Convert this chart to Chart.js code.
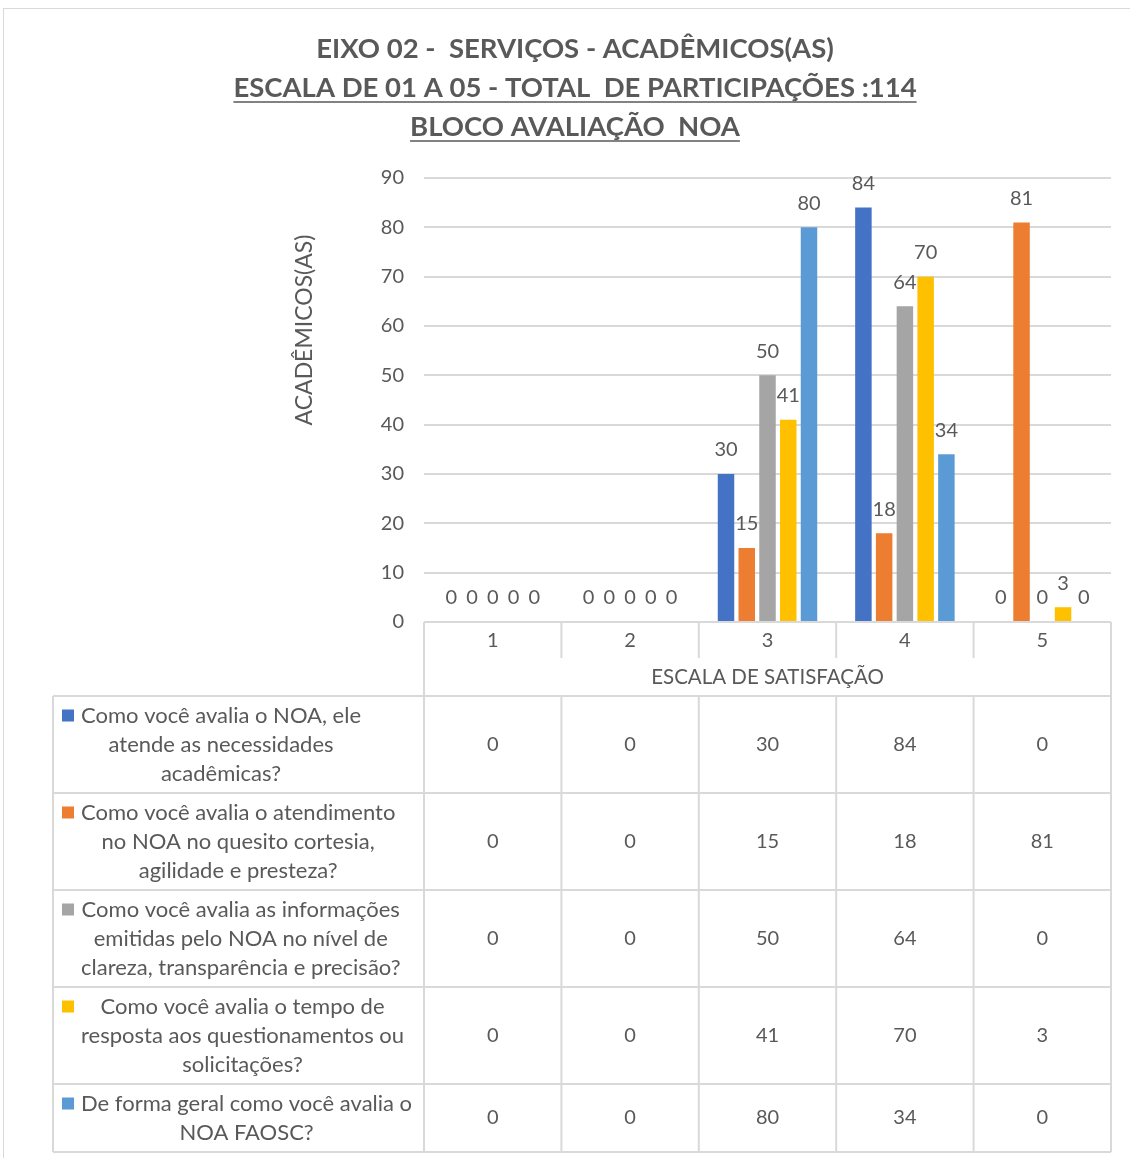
<!DOCTYPE html>
<html>
<head>
<meta charset="utf-8">
<script src="https://cdn.jsdelivr.net/npm/chart.js@4.4.0/dist/chart.umd.min.js"></script>
<style>
  body { margin: 0; background: #fff; }
  #wrap { width: 1130px; height: 1158px; }
</style>
</head>
<body>
<div id="wrap"><canvas id="chart" width="1130" height="1158"></canvas></div>
<script>
// ---- data ----
const categories = ['1', '2', '3', '4', '5'];
const noaAtende = [0, 0, 30, 84, 0];
const cortesia = [0, 0, 15, 18, 81];
const informacoes = [0, 0, 50, 64, 0];
const tempoResposta = [0, 0, 41, 70, 3];
const formaGeral = [0, 0, 80, 34, 0];
const seriesLabels = [
  ['Como você avalia o NOA, ele', 'atende as necessidades', 'acadêmicas?'],
  ['Como você avalia o atendimento', 'no NOA no quesito cortesia,', 'agilidade e presteza?'],
  ['Como você avalia as informações', 'emitidas pelo NOA no nível de', 'clareza, transparência e precisão?'],
  ['Como você avalia o tempo de', 'resposta aos questionamentos ou', 'solicitações?'],
  ['De forma geral como você avalia o', 'NOA FAOSC?']
];
const titleLines = [
  'EIXO 02 -  SERVIÇOS - ACADÊMICOS(AS)',
  'ESCALA DE 01 A 05 - TOTAL  DE PARTICIPAÇÕES :114',
  'BLOCO AVALIAÇÃO  NOA'
];
const yTitle = 'ACADÊMICOS(AS)';
const xTitle = 'ESCALA DE SATISFAÇÃO';
const yMax = 90;
const yStep = 10;

const seriesValues = [noaAtende, cortesia, informacoes, tempoResposta, formaGeral];
const colors = ['#4472C4', '#ED7D31', '#A5A5A5', '#FFC000', '#5B9BD5'];

const FONT = 'Lato, "Open Sans", sans-serif';
const TXT = '#595959';
const LINE = '#d9d9d9';

// table layout (pixels)
const tableLeft = 53;
const headBottom = 658;
const xTitleRowBottom = 696;
const rowHeights = [97, 97, 97, 97, 68];

// ---- plugin: title, axis title, labels, data table ----
const extras = {
  id: 'extras',
  afterDatasetsDraw(chart) {
    const ctx = chart.ctx;
    ctx.save();
    ctx.fillStyle = TXT;
    ctx.font = '20px ' + FONT;
    ctx.textAlign = 'center';
    ctx.textBaseline = 'middle';
    chart.data.datasets.forEach((ds, i) => {
      chart.getDatasetMeta(i).data.forEach((bar, j) => {
        ctx.fillText(String(ds.data[j]), bar.x, bar.y - 24);
      });
    });
    ctx.restore();
  },
  afterDraw(chart) {
    const ctx = chart.ctx;
    const ca = chart.chartArea;
    const xs = chart.scales.x;
    ctx.save();

    // outer frame
    ctx.strokeStyle = LINE;
    ctx.lineWidth = 1;
    ctx.strokeRect(3.5, 8.5, 1200, 1200);

    // title
    ctx.fillStyle = TXT;
    ctx.strokeStyle = TXT;
    ctx.textAlign = 'center';
    ctx.textBaseline = 'middle';
    ctx.font = 'bold 27.5px ' + FONT;
    const cx = 575;
    titleLines.forEach((t, i) => {
      const y = 49 + i * 39;
      ctx.fillText(t, cx, y);
      if (i > 0) {
        const w = ctx.measureText(t).width;
        ctx.lineWidth = 1.5;
        ctx.beginPath();
        ctx.moveTo(cx - w / 2, y + 14);
        ctx.lineTo(cx + w / 2, y + 14);
        ctx.stroke();
      }
    });

    // y axis title
    ctx.save();
    ctx.translate(305, 330);
    ctx.rotate(-Math.PI / 2);
    ctx.font = '23px ' + FONT;
    ctx.fillText(yTitle, 0, 0);
    ctx.restore();

    // data table
    const half = (xs.getPixelForValue(1) - xs.getPixelForValue(0)) / 2;
    const edges = [xs.getPixelForValue(0) - half];
    categories.forEach((c, i) => edges.push(xs.getPixelForValue(i) + half));
    const top = ca.bottom;
    const rowTops = [xTitleRowBottom];
    rowHeights.forEach(h => rowTops.push(rowTops[rowTops.length - 1] + h));
    const bottom = rowTops[rowTops.length - 1];

    ctx.strokeStyle = LINE;
    ctx.lineWidth = 2;
    ctx.beginPath();
    ctx.moveTo(ca.left, top); ctx.lineTo(ca.right, top);
    edges.forEach((x, i) => {
      if (i === 0 || i === edges.length - 1) {
        ctx.moveTo(x, top); ctx.lineTo(x, bottom);
      } else {
        ctx.moveTo(x, top); ctx.lineTo(x, headBottom);
        ctx.moveTo(x, xTitleRowBottom); ctx.lineTo(x, bottom);
      }
    });
    rowTops.forEach(y => { ctx.moveTo(tableLeft, y); ctx.lineTo(ca.right, y); });
    ctx.moveTo(tableLeft, xTitleRowBottom); ctx.lineTo(tableLeft, bottom);
    ctx.stroke();

    ctx.fillStyle = TXT;
    ctx.font = '20px ' + FONT;
    categories.forEach((c, i) => ctx.fillText(c, xs.getPixelForValue(i), 641));
    ctx.font = '20.5px ' + FONT;
    ctx.fillText(xTitle, (ca.left + ca.right) / 2, 677);

    const lh = 29;
    seriesLabels.forEach((lines, r) => {
      const mid = (rowTops[r] + rowTops[r + 1]) / 2;
      const y0 = mid - (lines.length - 1) * lh / 2;
      ctx.font = '22px ' + FONT;
      const maxW = Math.max(...lines.map(l => ctx.measureText(l).width));
      const tx = 81 + maxW / 2;
      ctx.fillStyle = colors[r];
      ctx.fillRect(62, y0 - 6, 12, 12);
      ctx.fillStyle = TXT;
      lines.forEach((l, k) => ctx.fillText(l, tx, y0 + k * lh));
      ctx.font = '20px ' + FONT;
      seriesValues[r].forEach((v, i) => ctx.fillText(String(v), xs.getPixelForValue(i), mid));
    });

    ctx.restore();
  }
};

new Chart(document.getElementById('chart'), {
  type: 'bar',
  data: {
    labels: categories,
    datasets: seriesValues.map((vals, i) => ({
      label: seriesLabels[i].join(' '),
      data: vals,
      backgroundColor: colors[i],
      categoryPercentage: 0.755,
      barPercentage: 0.795
    }))
  },
  options: {
    responsive: false,
    animation: false,
    layout: { padding: { left: 0, right: 19, top: 178, bottom: 536 } },
    plugins: { legend: { display: false }, tooltip: { enabled: false } },
    scales: {
      x: { display: false },
      y: {
        min: 0,
        max: yMax,
        afterFit(scale) { scale.width = 424; },
        ticks: { stepSize: yStep, color: TXT, font: { family: FONT, size: 20 }, padding: 20 },
        grid: { color: LINE, lineWidth: 2, drawTicks: false },
        border: { display: false }
      }
    }
  },
  plugins: [extras]
});
</script>
</body>
</html>
